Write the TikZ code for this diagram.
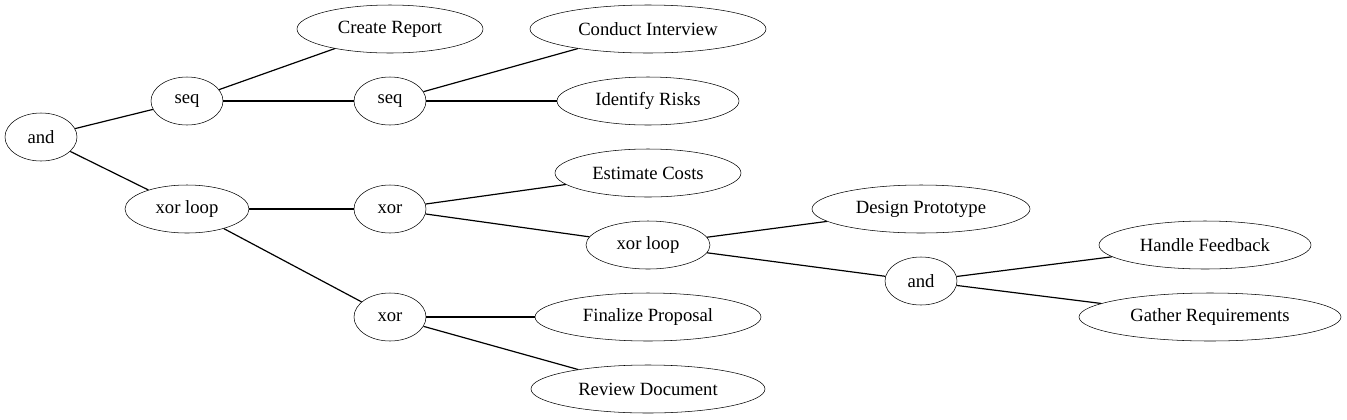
\documentclass[tikz,border=0pt]{standalone}
\usepackage{fontspec}
\setmainfont{Liberation Serif}
\newfontfamily\gvfont{Liberation Serif}
\usetikzlibrary{shapes.geometric}
\tikzset{
    opnode/.style={draw, ellipse, inner sep=0pt, minimum height=36pt,
        minimum width={#1*0.75pt}, font=\gvfont\fontsize{14pt}{16pt}\selectfont},
    opnode/.default={72},
    edge/.style={draw, line width=0.9pt}
}
\begin{document}
\begin{tikzpicture}[x=0.75pt, y=-0.75pt]
    \useasboundingbox (0,0) rectangle (1347,419);
    \node[opnode] (and1) at (41, 137) {and};
    \node[opnode] (seq1) at (187, 101) {seq};
    \node[opnode=124] (xorloop1) at (187, 209) {xor loop};
    \node[opnode=186] (report) at (390, 29) {Create Report};
    \node[opnode] (seq2) at (390, 101) {seq};
    \node[opnode] (xor1) at (390, 209) {xor};
    \node[opnode] (xor2) at (390, 317) {xor};
    \node[opnode=236] (interview) at (648, 29) {Conduct Interview};
    \node[opnode=182] (risks) at (648, 101) {Identify Risks};
    \node[opnode=186] (costs) at (648, 173) {Estimate Costs};
    \node[opnode=124] (xorloop2) at (648, 245) {xor loop};
    \node[opnode=226] (proposal) at (648, 317) {Finalize Proposal};
    \node[opnode=234] (review) at (648, 389) {Review Document};
    \node[opnode=218] (prototype) at (921, 209) {Design Prototype};
    \node[opnode] (and2) at (921, 281) {and};
    \node[opnode=212] (feedback) at (1205, 245) {Handle Feedback};
    \node[opnode=262] (requirements) at (1210, 317) {Gather Requirements};
    %% edges
    \draw[edge] (and1) -- (seq1);
    \draw[edge] (and1) -- (xorloop1);
    \draw[edge] (seq1) -- (report);
    \draw[edge] (seq1) -- (seq2);
    \draw[edge] (seq2) -- (interview);
    \draw[edge] (seq2) -- (risks);
    \draw[edge] (xorloop1) -- (xor1);
    \draw[edge] (xorloop1) -- (xor2);
    \draw[edge] (xor1) -- (costs);
    \draw[edge] (xor1) -- (xorloop2);
    \draw[edge] (xor2) -- (proposal);
    \draw[edge] (xor2) -- (review);
    \draw[edge] (xorloop2) -- (prototype);
    \draw[edge] (xorloop2) -- (and2);
    \draw[edge] (and2) -- (feedback);
    \draw[edge] (and2) -- (requirements);
\end{tikzpicture}
\end{document}
